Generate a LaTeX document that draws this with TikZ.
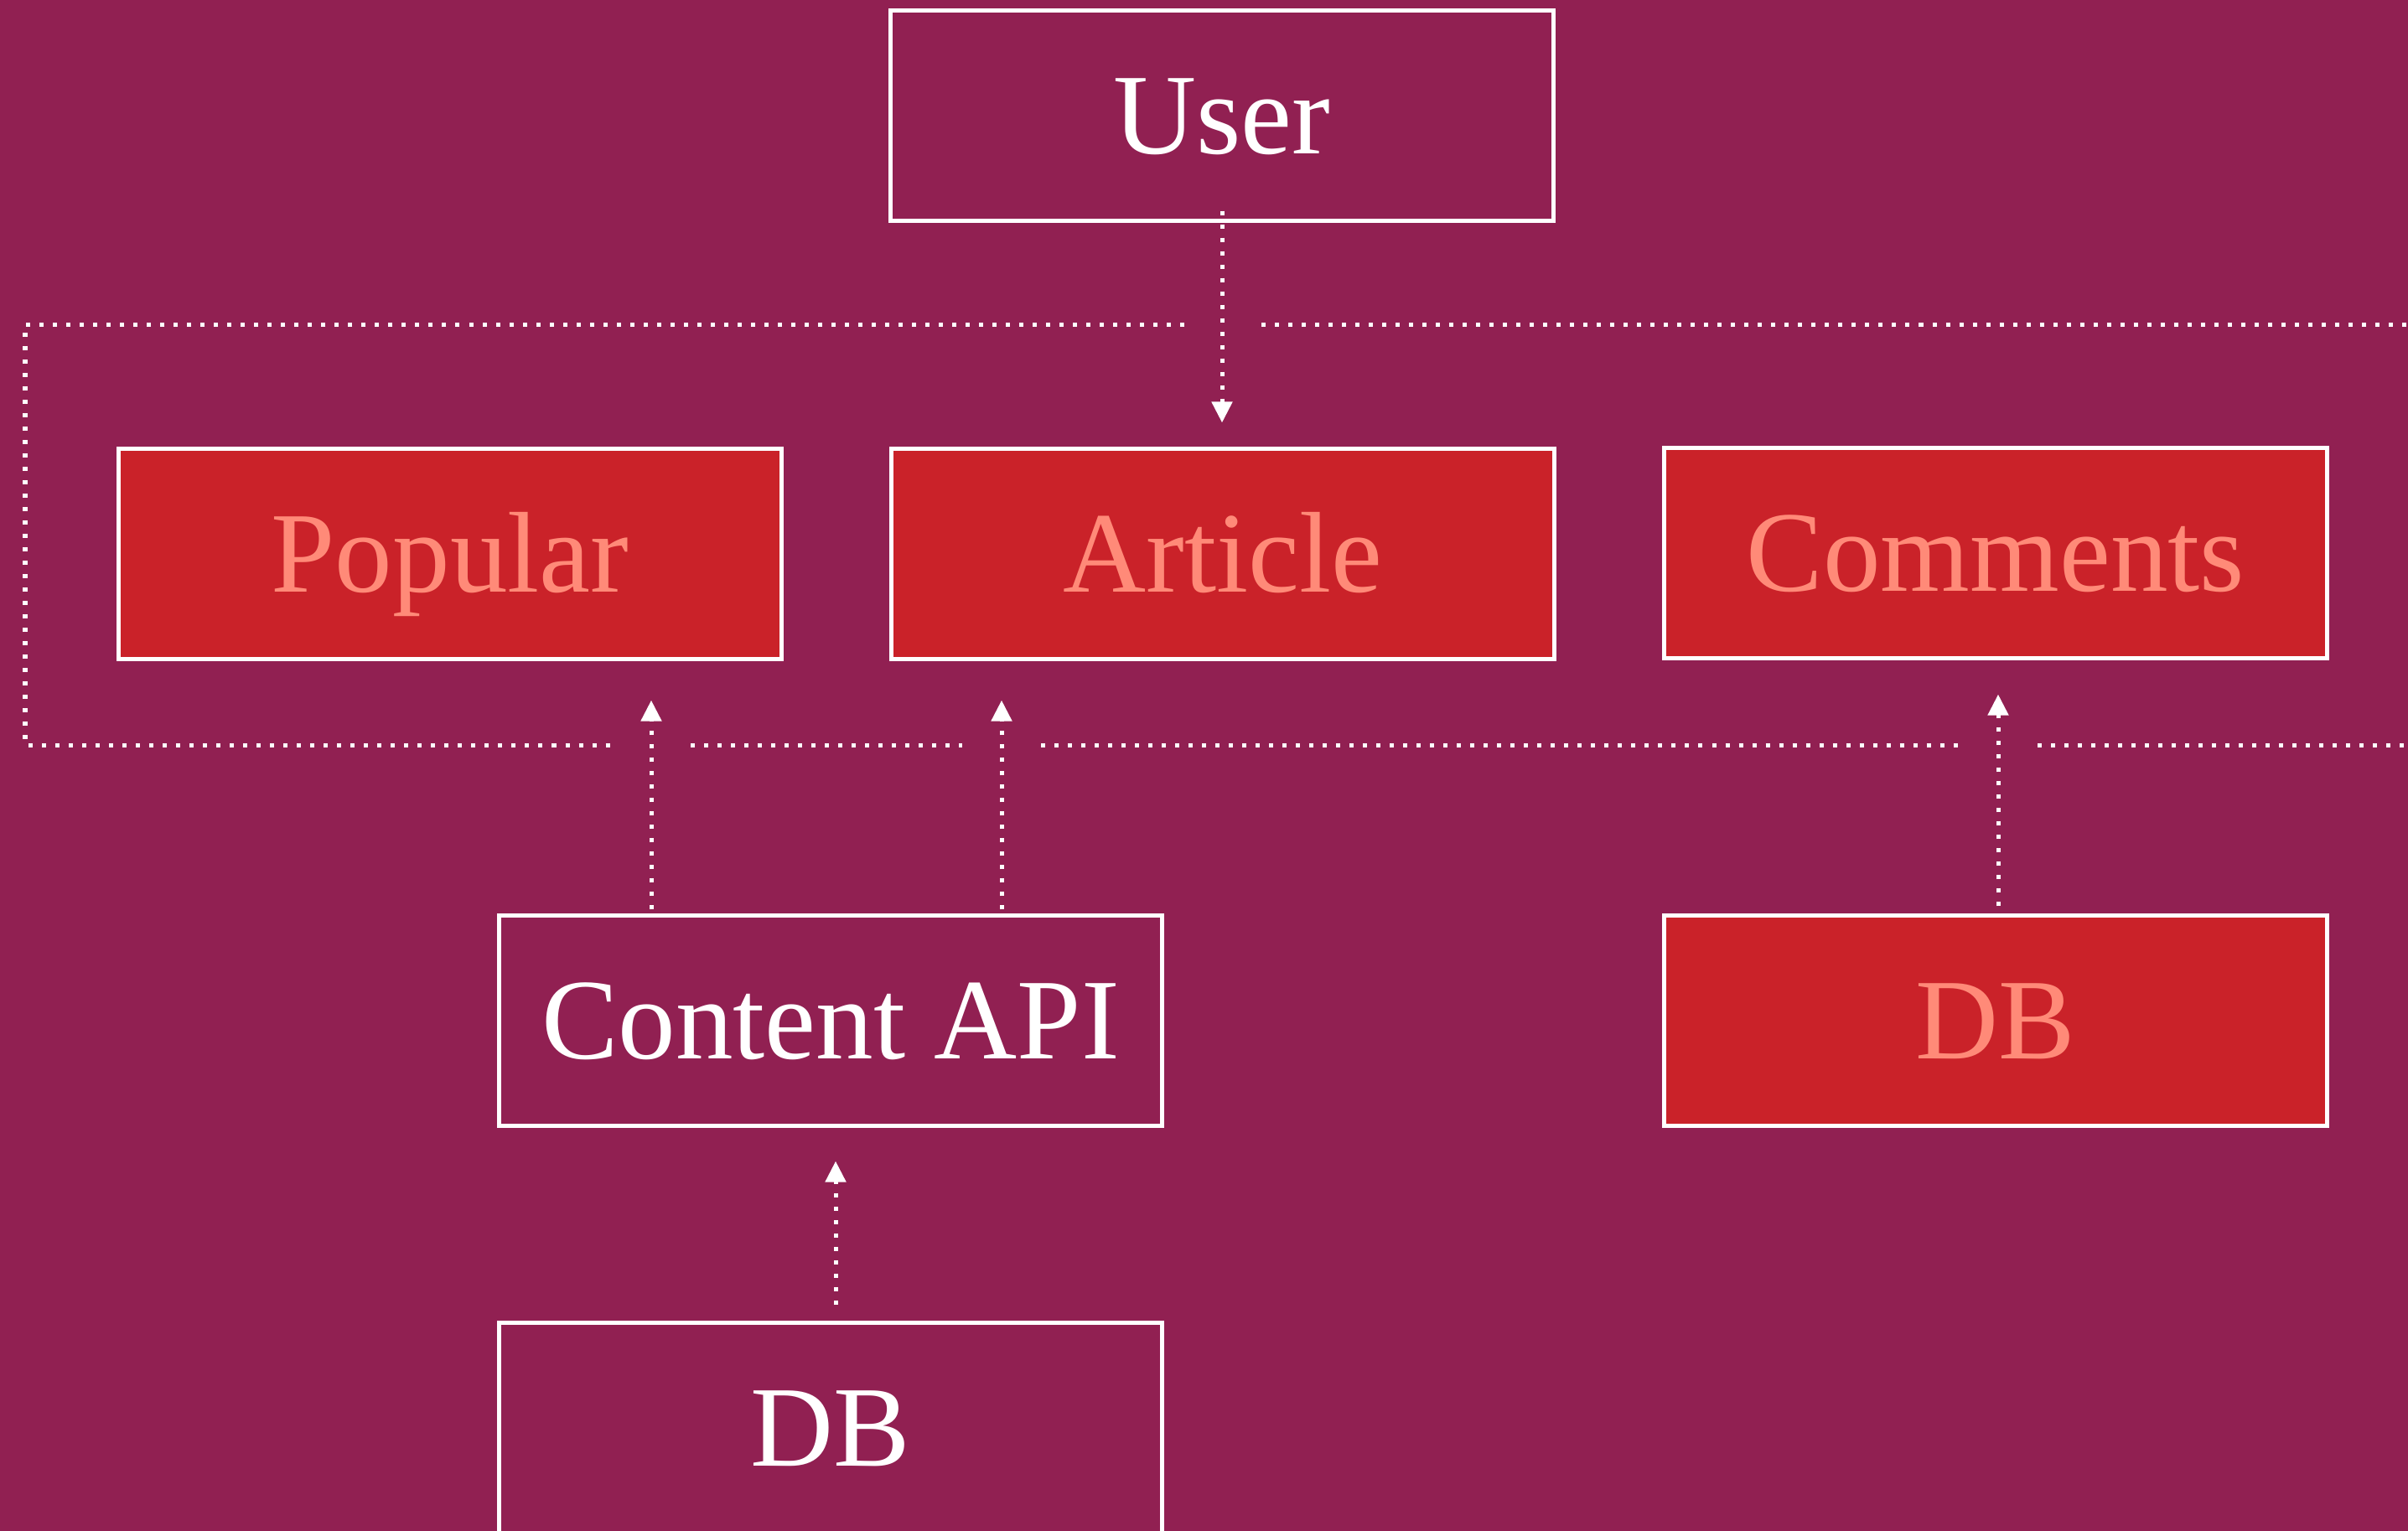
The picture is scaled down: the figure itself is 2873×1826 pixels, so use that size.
\documentclass[tikz,border=0pt]{standalone}
\usepackage{fontspec}
\setmainfont{Liberation Serif}
\usetikzlibrary{arrows.meta,calc}
\definecolor{bgc}{RGB}{145,32,82}
\definecolor{boxred}{RGB}{202,34,41}
\definecolor{salmon}{RGB}{255,138,120}
\begin{document}
\begin{tikzpicture}[x=0.01cm,y=-0.01cm,
  box/.style={draw=white, line width=0.05cm, minimum width=7.9cm, minimum height=2.5cm,
    inner sep=0pt, font=\fontsize{39}{47}\selectfont, text height=25.8pt, text depth=0pt},
  plainbox/.style={box, fill=bgc, text=white},
  redbox/.style={box, fill=boxred, text=salmon},
  dots/.style={white, line width=0.05cm, dash pattern=on 0.05cm off 0.11cm},
  arr/.style={dots, -{Triangle[length=0.25cm,width=0.24cm]}}
]
\useasboundingbox (0,0) rectangle (2873,1826);
\fill[bgc] (-20,-20) rectangle (2893,1846);

% frame (dotted, open to the right)
\draw[dots] (1413,387) -- (30,387) -- (30,889) -- (730,889);
\draw[dots] (1505,387) -- (2873,387);
\draw[dots] (824,889) -- (1148,889);
\draw[dots] (1242,889) -- (2337,889);
\draw[dots] (2431,889) -- (2873,889);

% nodes
\node[plainbox] (user) at (1458,138) {User};
\node[redbox] (popular) at (537,661) {Popular};
\node[redbox] (article) at (1459,661) {Article};
\node[redbox] (comments) at (2381,660) {Comments};
\node[plainbox] (api) at (991,1218) {Content API};
\node[redbox] (dbred) at (2381,1218) {DB};
\node[plainbox, minimum height=2.8cm, text depth=8.2pt] (db) at (991,1718.5) {DB};

% connectors
\draw[arr] ($(user.south)+(0,-14)$) -- ($(user.south |- article.north)+(0,-29)$);
\draw[arr] ($(api.north)+(-214,-5)$) -- ($(api.north |- popular.south)+(-214,47)$);
\draw[arr] ($(api.north)+(204,-5)$) -- ($(api.north |- article.south)+(204,47)$);
\draw[arr] ($(dbred.north)+(3,-9)$) -- ($(comments.south)+(3,41)$);
\draw[arr] ($(db.north)+(6,-19)$) -- ($(api.south)+(6,40)$);
\end{tikzpicture}
\end{document}
